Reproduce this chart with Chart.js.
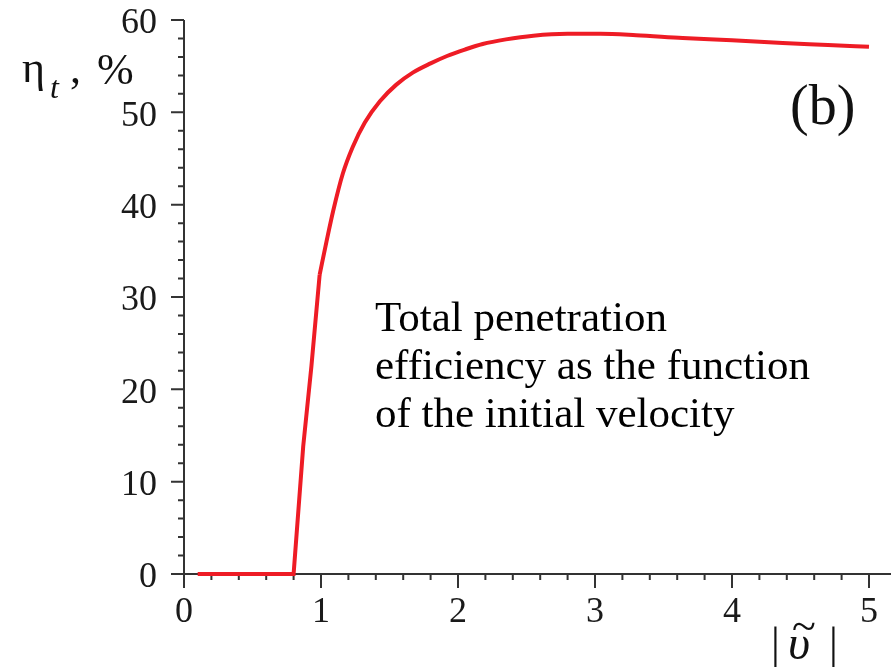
<!DOCTYPE html>
<html>
<head>
<meta charset="utf-8">
<script src="https://cdn.jsdelivr.net/npm/chart.js@4"></script>
<style>
  html, body { margin: 0; padding: 0; background: #fff; }
  #wrap { position: relative; width: 891px; height: 670px; overflow: hidden; }
  #chart { position: absolute; left: 0; top: 0; }
  .txt { position: absolute; font-family: "Liberation Serif", "Times New Roman", serif; color: #111; line-height: 1; white-space: nowrap; }
  #note { position: absolute; left: 375px; top: 293px; font-family: "Liberation Serif", serif; font-size: 43px; line-height: 48px; color: #000; white-space: nowrap; }
</style>
</head>
<body>
<div id="wrap">
  <canvas id="chart" width="891" height="670"></canvas>
  <span class="txt" style="left:22px; top:46px; font-size:44px;">η</span>
  <span class="txt" style="left:50px; top:71px; font-size:32px; font-style:italic;">t</span>
  <span class="txt" style="left:70px; top:47px; font-size:44px;">,</span>
  <span class="txt" style="left:97px; top:48px; font-size:44px;">%</span>
  <span class="txt" style="left:790px; top:77px; font-size:56px;">(b)</span>
  <span class="txt" style="left:771px; top:622px; font-size:44px;">|</span>
  <span class="txt" style="left:788px; top:619px; font-size:48px; font-style:italic;">υ</span>
  <span class="txt" style="left:792px; top:605px; font-size:44px;">~</span>
  <span class="txt" style="left:829px; top:622px; font-size:44px;">|</span>
  <div id="note">Total penetration<br>efficiency as the function<br>of the initial velocity</div>
</div>
<script>
// initial velocity |v~| and total penetration efficiency eta_t (%)
const velocity = [0.1, 0.8, 0.87, 0.93, 0.99, 1.04, 1.09, 1.16, 1.23, 1.32, 1.43, 1.55, 1.67, 1.8, 1.92, 2.05, 2.18, 2.35, 2.55, 2.8, 3.04, 3.3, 3.64, 4.0, 4.37, 4.7, 5.0];
const efficiency = [0, 0, 13.8, 22.5, 32.4, 36.0, 39.4, 43.4, 46.2, 48.9, 51.2, 53.0, 54.3, 55.3, 56.1, 56.8, 57.4, 57.9, 58.3, 58.5, 58.5, 58.35, 58.05, 57.8, 57.5, 57.3, 57.1];
const kinkIndex = 4; // the curve turns sharply at |v| ~ 0.99

const xTicks = [0, 1, 2, 3, 4, 5];
const yTicks = [0, 10, 20, 30, 40, 50, 60];

const AXIS_COLOR = "#333";
const LINE_COLOR = "#ee1c25";
const LABEL_FONT = { family: "Liberation Serif", size: 36, lineHeight: 1.2 };

const points = velocity.map((v, i) => ({ x: v, y: efficiency[i] }));

// axis lines plus major / minor tick marks, placed by the chart scales
const axesPlugin = {
  id: "plotAxes",
  beforeDatasetsDraw(chart) {
    const { ctx, chartArea } = chart;
    const xs = chart.scales.x, ys = chart.scales.y;
    const y0 = ys.getPixelForValue(0);
    const x0 = xs.getPixelForValue(0);
    ctx.save();
    ctx.strokeStyle = AXIS_COLOR;
    ctx.lineWidth = 2;
    ctx.beginPath();
    ctx.moveTo(x0, chartArea.top);
    ctx.lineTo(x0, y0);
    ctx.moveTo(x0, y0);
    ctx.lineTo(chart.width, y0);
    // y ticks (major every 10, minor every 2)
    for (let v = 0; v <= 60; v += 2) {
      const p = ys.getPixelForValue(v);
      const len = v % 10 === 0 ? 13 : 6;
      ctx.moveTo(x0 - len, p);
      ctx.lineTo(x0, p);
    }
    // x ticks (major every 1, minor every 0.2)
    for (let i = 0; i <= 25; i++) {
      const p = xs.getPixelForValue(i / 5);
      const len = i % 5 === 0 ? 14 : 6;
      ctx.moveTo(p, y0);
      ctx.lineTo(p, y0 + len);
    }
    ctx.stroke();
    ctx.restore();
  }
};

const lineStyle = { borderColor: LINE_COLOR, borderWidth: 4, pointRadius: 0, clip: false, fill: false };

new Chart(document.getElementById("chart"), {
  type: "line",
  data: {
    datasets: [
      Object.assign({ data: points.slice(0, kinkIndex + 1), tension: 0 }, lineStyle),
      Object.assign({ data: points.slice(kinkIndex), cubicInterpolationMode: "monotone" }, lineStyle)
    ]
  },
  options: {
    responsive: false,
    animation: false,
    devicePixelRatio: 1,
    layout: { padding: { left: 0, right: 22, top: 20, bottom: 0 } },
    plugins: { legend: { display: false }, tooltip: { enabled: false } },
    scales: {
      x: {
        type: "linear",
        min: 0,
        max: 5,
        afterBuildTicks: s => { s.ticks = xTicks.map(v => ({ value: v })); },
        afterFit: s => { s.height = 96; s.paddingLeft = 0; s.paddingRight = 0; },
        grid: { display: false },
        border: { display: false },
        ticks: { color: "#1a1a1a", font: LABEL_FONT, padding: 9, maxRotation: 0 }
      },
      y: {
        min: 0,
        max: 60,
        afterBuildTicks: s => { s.ticks = yTicks.map(v => ({ value: v })); },
        afterFit: s => { s.width = 184; s.paddingTop = 0; s.paddingBottom = 0; },
        grid: { display: false },
        border: { display: false },
        ticks: { color: "#1a1a1a", font: LABEL_FONT, padding: 19, labelOffset: 4 }
      }
    }
  },
  plugins: [axesPlugin]
});
</script>
</body>
</html>
